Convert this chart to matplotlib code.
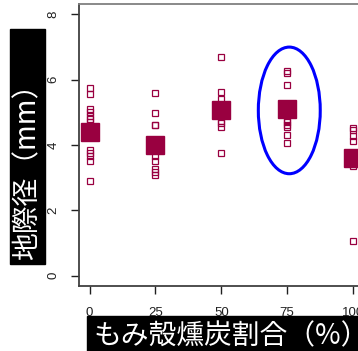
import matplotlib.pyplot as plt
import matplotlib.patches as mpatches

plt.rcParams['font.family'] = ['Noto Sans CJK JP', 'DejaVu Sans']

# もみ殻燻炭の割合 (%) ごとの地際径 (mm)
ratio = [0, 25, 50, 75, 100]
d0 = [5.75, 5.55, 5.10, 5.00, 4.90, 4.80, 4.70, 3.85, 3.75, 3.65, 3.50, 2.90]
d25 = [5.58, 4.98, 4.62, 4.60, 3.67, 3.52, 3.25, 3.18, 3.08]
d50 = [6.70, 5.61, 5.40, 4.74, 4.66, 4.54, 3.74]
d75 = [6.27, 6.22, 5.84, 4.78, 4.70, 4.62, 4.55, 4.30, 4.05]
d100 = [4.52, 4.45, 4.28, 4.12, 3.35, 1.05]
means = [4.40, 4.00, 5.07, 5.09, 3.61]

col = '#990040'

fig = plt.figure(figsize=(3.58, 3.51), dpi=100)
ax = fig.add_axes([79/358, 65/351, 284.6/358, 282/351])

for x, d in zip(ratio, [d0, d25, d50, d75, d100]):
    ax.plot([x]*len(d), d, 's', ms=4.3, mfc='none', mec=col, mew=0.9, ls='none')
ax.plot(ratio, means, 's', ms=13, color=col, ls='none', zorder=3)

# 75% の群を囲む
ax.add_patch(mpatches.Ellipse((75.8, 5.06), 23.5, 3.88, fill=False,
                              ec='#0000ff', lw=2.2, zorder=4))

ax.set_xlim(-4, 104)
ax.set_ylim(-0.32, 8.32)
ax.set_xticks(ratio)
ax.set_yticks([0, 2, 4, 6, 8])
ax.tick_params(axis='x', length=6, width=1, pad=9, labelsize=9.5, colors='#202020')
ax.tick_params(axis='y', length=6, width=1, pad=8, labelsize=9.5, colors='#202020',
               labelrotation=90)
for lab in ax.get_xticklabels() + ax.get_yticklabels():
    lab.set_family('Liberation Sans')
for lab in ax.get_yticklabels():
    lab.set_va('center')

ax.spines['left'].set_color('#404040')
ax.spines['bottom'].set_color('#404040')
ax.spines['top'].set_color('#808080')
ax.spines['left'].set_linewidth(1.3)
ax.spines['bottom'].set_linewidth(1.3)
ax.spines['top'].set_linewidth(1.3)

# 軸ラベル (黒地に白文字)
fig.patches.append(mpatches.Rectangle((10/358, 1-264/351), 35/358, 235/351,
                                      transform=fig.transFigure, color='black'))
fig.text(27.5/358, 1-165/351, '地際径（mm）', rotation=90, color='white',
         fontsize=20, ha='center', va='center')
fig.patches.append(mpatches.Rectangle((87/358, 0), 271/358, 35/351,
                                      transform=fig.transFigure, color='black'))
fig.text(93/358, 1-336/351, 'もみ殻燻炭割合（%）', color='white',
         fontsize=20, ha='left', va='center')

fig.savefig('out.png', dpi=100)
